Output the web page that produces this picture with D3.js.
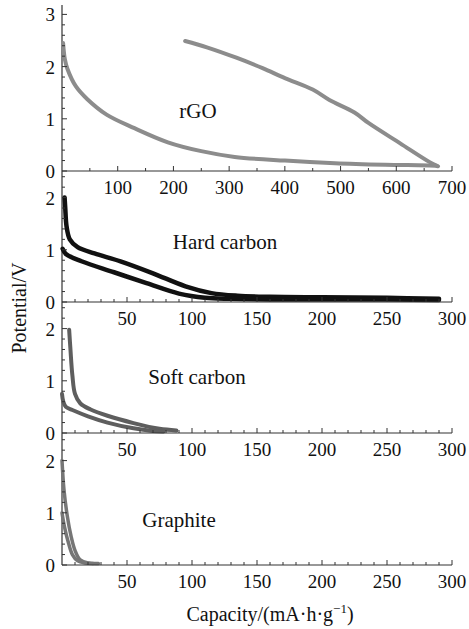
<html>
<head>
<meta charset="utf-8" />
<script src="https://d3js.org/d3.v7.min.js"></script>
<style>
  body { margin: 0; background: #fff; }
  text { font-family: "Liberation Serif", "Times New Roman", serif; fill: #111; }
</style>
</head>
<body>
<div id="chart"></div>
<script>
// values (capacity in mA·h/g, potential in V)
const rgoDisX = [2, 5, 10, 25, 45, 80, 130, 190, 250, 310, 400, 490, 580, 670, 675];
const rgoDisY = [2.45, 2.15, 1.95, 1.62, 1.38, 1.08, 0.82, 0.55, 0.38, 0.27, 0.2, 0.15, 0.12, 0.1, 0.09];
const rgoChX = [221, 260, 313, 360, 400, 450, 480, 525, 550, 607, 660, 673];
const rgoChY = [2.49, 2.37, 2.17, 1.97, 1.78, 1.56, 1.36, 1.12, 0.92, 0.53, 0.17, 0.1];

const hardUpX = [2, 2.5, 3.5, 6, 12, 25, 45, 70, 95, 115, 135, 160, 200, 250, 290];
const hardUpY = [2.0, 1.8, 1.45, 1.2, 1.05, 0.93, 0.78, 0.55, 0.3, 0.17, 0.12, 0.1, 0.09, 0.08, 0.06];
const hardLoX = [0.5, 3, 15, 40, 65, 90, 110, 130, 160, 220, 290];
const hardLoY = [1.02, 0.92, 0.78, 0.57, 0.36, 0.16, 0.08, 0.06, 0.05, 0.05, 0.04];

const softUpX = [5.5, 6.5, 8, 10, 14, 22, 35, 55, 75, 88];
const softUpY = [1.98, 1.6, 1.1, 0.75, 0.57, 0.45, 0.33, 0.19, 0.08, 0.05];
const softLoX = [0, 1, 3, 8, 20, 35, 55, 70, 78];
const softLoY = [0.75, 0.6, 0.5, 0.44, 0.32, 0.2, 0.09, 0.04, 0.03];

const graUpX = [0, 1.5, 4, 7, 10, 14, 20, 28];
const graUpY = [2.0, 1.45, 0.95, 0.55, 0.28, 0.1, 0.04, 0.03];
const graLoX = [0, 2, 5, 8, 12, 18, 24];
const graLoY = [1.0, 0.72, 0.42, 0.2, 0.08, 0.04, 0.03];

const rgoTicks = [100, 200, 300, 400, 500, 600, 700];
const carbonTicks = [50, 100, 150, 200, 250, 300];
const panelNames = ["rGO", "Hard carbon", "Soft carbon", "Graphite"];

const W = 469, H = 629;
const x0 = 62, x1 = 452;

function zip(xs, ys) { return xs.map((v, i) => [v, ys[i]]); }

// each panel: its x domain, baseline, top and the curves
const panels = [
  { name: panelNames[0], xmax: 700, ticks: rgoTicks, minor: 50, base: 171, top: 5,
    yTicks: [0, 1, 2, 3], color: "#8c8c8c", width: 4,
    series: [zip(rgoDisX, rgoDisY), zip(rgoChX, rgoChY)], lx: 198, ly: 118 },
  { name: panelNames[1], xmax: 300, ticks: carbonTicks, minor: 10, base: 302, top: 171,
    yTicks: [0, 1, 2], color: "#111", width: 4.5,
    series: [zip(hardUpX, hardUpY), zip(hardLoX, hardLoY)], lx: 225, ly: 249 },
  { name: panelNames[2], xmax: 300, ticks: carbonTicks, minor: 10, base: 433, top: 302,
    yTicks: [0, 1, 2], color: "#5e5e5e", width: 4,
    series: [zip(softUpX, softUpY), zip(softLoX, softLoY)], lx: 197, ly: 384 },
  { name: panelNames[3], xmax: 300, ticks: carbonTicks, minor: 10, base: 565, top: 433,
    yTicks: [0, 1, 2], color: "#767676", width: 3.5,
    series: [zip(graUpX, graUpY), zip(graLoX, graLoY)], lx: 179, ly: 527 }
];

const svg = d3.select("#chart").append("svg")
  .attr("width", W).attr("height", H);

const axisColor = "#333";
const pxPerVolt = 52.2;

// continuous left axis
svg.append("line")
  .attr("x1", x0).attr("x2", x0).attr("y1", 5).attr("y2", 565)
  .attr("stroke", axisColor).attr("stroke-width", 1.2);

panels.forEach(p => {
  const x = d3.scaleLinear().domain([0, p.xmax]).range([x0, x1]);
  const ymax = (p.base - p.top) / pxPerVolt;
  const y = d3.scaleLinear().domain([0, ymax]).range([p.base, p.top]);
  const g = svg.append("g");

  // curves
  const line = d3.line().x(d => x(d[0])).y(d => y(d[1])).curve(d3.curveCatmullRom.alpha(0.5));
  p.series.forEach(s => {
    g.append("path").attr("d", line(s))
      .attr("fill", "none").attr("stroke", p.color)
      .attr("stroke-width", p.width).attr("stroke-linecap", "round")
      .attr("stroke-linejoin", "round");
  });

  // x axis line and ticks (pointing up)
  g.append("line").attr("x1", x0).attr("x2", x1).attr("y1", p.base).attr("y2", p.base)
    .attr("stroke", axisColor).attr("stroke-width", 1.2);
  d3.range(p.minor, p.xmax + 0.1, p.minor).forEach(v => {
    const major = p.ticks.includes(v);
    g.append("line").attr("x1", x(v)).attr("x2", x(v))
      .attr("y1", p.base).attr("y2", p.base - (major ? 5 : 3))
      .attr("stroke", axisColor).attr("stroke-width", 1);
  });
  g.selectAll(".xl").data(p.ticks).join("text")
    .attr("x", d => x(d)).attr("y", p.base + 23)
    .attr("text-anchor", "middle").attr("font-size", 19)
    .text(d => d);

  // y ticks every 0.2 V (pointing right)
  d3.range(0, ymax - 0.05, 0.2).forEach(v => {
    const major = Math.abs(v - Math.round(v)) < 1e-6;
    g.append("line").attr("x1", x0).attr("x2", x0 + (major ? 5 : 3))
      .attr("y1", y(v)).attr("y2", y(v))
      .attr("stroke", axisColor).attr("stroke-width", 1);
  });
  g.selectAll(".yl").data(p.yTicks).join("text")
    .attr("x", 55).attr("y", d => y(d) + 7)
    .attr("text-anchor", "end").attr("font-size", 19)
    .text(d => d);

  g.append("text").attr("x", p.lx).attr("y", p.ly)
    .attr("text-anchor", "middle").attr("font-size", 21)
    .text(p.name);
});

// axis titles
svg.append("text")
  .attr("transform", "translate(26,308) rotate(-90)")
  .attr("text-anchor", "middle").attr("font-size", 20)
  .text("Potential/V");

const xt = svg.append("text").attr("x", 270).attr("y", 621)
  .attr("text-anchor", "middle").attr("font-size", 20);
xt.append("tspan").text("Capacity/(mA·h·g");
xt.append("tspan").attr("dy", -8).attr("font-size", 13).text("−1");
xt.append("tspan").attr("dy", 8).text(")");
</script>
</body>
</html>
